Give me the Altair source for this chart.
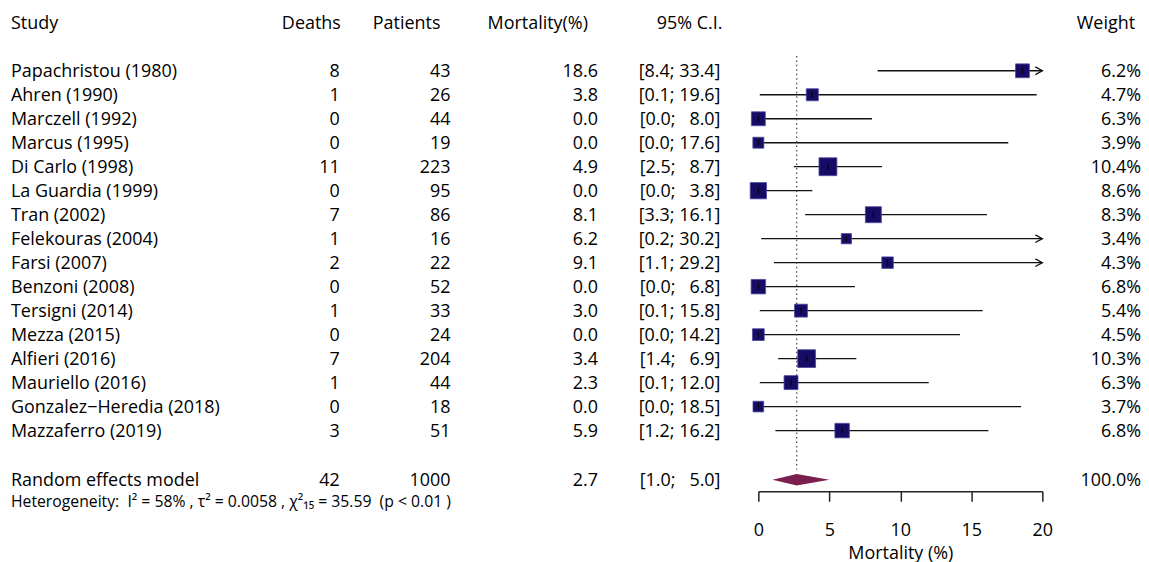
import altair as alt
import pandas as pd

# ---------------- data ----------------
studies = ["Papachristou (1980)", "Ahren (1990)", "Marczell (1992)", "Marcus (1995)",
           "Di Carlo (1998)", "La Guardia (1999)", "Tran (2002)", "Felekouras (2004)",
           "Farsi (2007)", "Benzoni (2008)", "Tersigni (2014)", "Mezza (2015)",
           "Alfieri (2016)", "Mauriello (2016)", "Gonzalez\u2212Heredia (2018)", "Mazzaferro (2019)"]
deaths = [8, 1, 0, 0, 11, 0, 7, 1, 2, 0, 1, 0, 7, 1, 0, 3]
patients = [43, 26, 44, 19, 223, 95, 86, 16, 22, 52, 33, 24, 204, 44, 18, 51]
mortality = [18.6, 3.8, 0.0, 0.0, 4.9, 0.0, 8.1, 6.2, 9.1, 0.0, 3.0, 0.0, 3.4, 2.3, 0.0, 5.9]
ci_low = [8.4, 0.1, 0.0, 0.0, 2.5, 0.0, 3.3, 0.2, 1.1, 0.0, 0.1, 0.0, 1.4, 0.1, 0.0, 1.2]
ci_high = [33.4, 19.6, 8.0, 17.6, 8.7, 3.8, 16.1, 30.2, 29.2, 6.8, 15.8, 14.2, 6.9, 12.0, 18.5, 16.2]
weights = [6.2, 4.7, 6.3, 3.9, 10.4, 8.6, 8.3, 3.4, 4.3, 6.8, 5.4, 4.5, 10.3, 6.3, 3.7, 6.8]

pooled_label = "Random effects model"
pooled_deaths = 42
pooled_patients = 1000
pooled_est = 2.7
pooled_low = 1.0
pooled_high = 5.0
pooled_weight = 100.0

headers = ["Study", "Deaths", "Patients", "Mortality(%)", "95% C.I.", "Weight"]
heterogeneity = ("Heterogeneity:\u00a0\u00a0I\u00b2 = 58% , \u03c4\u00b2 = 0.0058 , "
                 "\u03c7\u00b2\u2081\u2085 = 35.59\u00a0\u00a0(p < 0.01 )")
x_ticks = [0, 5, 10, 15, 20]
x_max = 20

# ---------------- tables ----------------
NB = "\u00a0"


def ci_text(lo, hi):
    pad = NB + NB if hi < 10 else ""
    return f"[{lo:.1f};{NB}{pad}{hi:.1f}]"


n = len(studies)
rows = list(range(n))
POOLED_ROW = 17.05
HET_ROW = 17.95
HEADER_ROW = -2

tbl = pd.DataFrame({
    "row": rows + [POOLED_ROW],
    "study": studies + [pooled_label],
    "deaths": [str(d) for d in deaths] + [str(pooled_deaths)],
    "patients": [str(p) for p in patients] + [str(pooled_patients)],
    "mort": [f"{m:.1f}" for m in mortality] + [f"{pooled_est:.1f}"],
    "ci": [ci_text(l, h) for l, h in zip(ci_low, ci_high)] + [ci_text(pooled_low, pooled_high)],
    "weight": [f"{w:.1f}%" for w in weights] + [f"{pooled_weight:.1f}%"],
})

forest = pd.DataFrame({
    "row": rows,
    "est": mortality,
    "lo": ci_low,
    "hi": [min(h, x_max) for h in ci_high],
    "arrow": [h > x_max for h in ci_high],
    "w": weights,
})
arrows = forest[forest["arrow"]]

hdr = pd.DataFrame({"row": [HEADER_ROW] * len(headers), "label": headers})
het = pd.DataFrame({"row": [HET_ROW], "label": [heterogeneity]})

diamond = pd.DataFrame({
    "x": [pooled_low, pooled_est, pooled_high],
    "y1": [POOLED_ROW, POOLED_ROW - 0.24, POOLED_ROW],
    "y2": [POOLED_ROW, POOLED_ROW + 0.24, POOLED_ROW],
})
refline = pd.DataFrame({"x": [pooled_est], "y1": [-0.62], "y2": [16.62]})

# ---------------- scales ----------------
FONT = "Open Sans"
FS = 18
TDY = 1.0
yscale = alt.Scale(domain=[-2.576, 17.53], reverse=True, nice=False, zero=False)
xscale = alt.Scale(domain=[0, x_max], range=[753, 1038], nice=False, zero=False)
AX = alt.Axis(values=x_ticks, title="Mortality (%)", grid=False,
              domainColor="#222", domainWidth=1.5, tickColor="#222",
              tickWidth=1.5, tickSize=10, labelFontSize=FS, labelFont=FONT,
              labelColor="black", labelPadding=20, titleFont=FONT,
              titleFontSize=FS, titleFontWeight="normal", titleColor="black",
              titlePadding=5, labelFlush=False)


def X(f):
    return alt.X(f"{f}:Q", scale=xscale, axis=AX)


def Y(f="row"):
    return alt.Y(f"{f}:Q", scale=yscale, axis=None)


def text_col(field, xpx, align, data=tbl, size=FS):
    return alt.Chart(data).mark_text(
        align=align, baseline="middle", font=FONT, fontSize=size, color="black", dy=TDY
    ).encode(x=alt.value(xpx), y=Y(), text=f"{field}:N")


def hdr_text(label, xpx, align):
    return alt.Chart(hdr).transform_filter(alt.datum.label == label).mark_text(
        align=align, baseline="middle", font=FONT, fontSize=FS, color="black", dy=TDY
    ).encode(x=alt.value(xpx), y=Y(), text="label:N")


cols = [
    text_col("study", 3, "left"),
    text_col("deaths", 333, "right"),
    text_col("patients", 444, "right"),
    text_col("mort", 592, "right"),
    text_col("ci", 715, "right"),
    text_col("weight", 1137, "right"),
    hdr_text("Study", 3, "left"),
    hdr_text("Deaths", 334, "right"),
    hdr_text("Patients", 434, "right"),
    hdr_text("Mortality(%)", 582, "right"),
    hdr_text("95% C.I.", 717, "right"),
    hdr_text("Weight", 1131, "right"),
    alt.Chart(het).mark_text(align="left", baseline="middle", font=FONT, fontSize=15.8,
                             color="black", dy=TDY).encode(x=alt.value(3), y=Y(), text="label:N"),
]

ci_lines = alt.Chart(forest).mark_rule(color="#111", strokeWidth=1.3).encode(
    x=X("lo"), x2="hi:Q", y=Y())

arrow_heads = alt.Chart(arrows).mark_point(
    shape="M-1,-0.55L0,0L-1,0.55", size=196, filled=False, color="#111", strokeWidth=1.3, opacity=1
).encode(x=X("hi"), y=Y())

squares = alt.Chart(forest).transform_calculate(sz="datum.w * 31").mark_point(
    shape="square", filled=True, fill="#170b66", stroke="#4a4aa0", strokeWidth=0.8, opacity=1
).encode(x=X("est"), y=Y(), size=alt.Size("sz:Q", scale=None, legend=None))

est_ticks = alt.Chart(forest).mark_point(
    shape="M0,-1L0,1", size=36, filled=False, color="black", strokeWidth=1, opacity=1
).encode(x=X("est"), y=Y())

ref = alt.Chart(refline).mark_rule(color="#444", strokeDash=[1.5, 3], strokeWidth=1.2).encode(
    x=X("x"), y=Y("y1"), y2="y2:Q")

dia = alt.Chart(diamond).mark_area(color="#7b1f4f", opacity=1).encode(
    x=X("x"), y=Y("y1"), y2="y2:Q")

chart = alt.layer(ci_lines, ref, arrow_heads, squares, est_ticks, dia, *cols).properties(
    width=1133, height=484, padding=0, background="white"
).configure_view(stroke=None)

chart.save("out.html", embed_options={"renderer": "svg", "actions": False})
